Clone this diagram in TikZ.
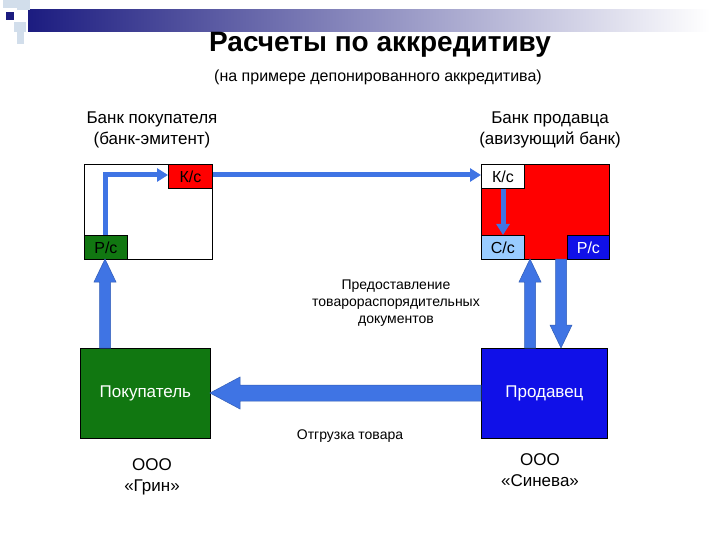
\documentclass[tikz,border=0pt]{standalone}
\usepackage{fontspec}
\setmainfont{Liberation Sans}
\usetikzlibrary{arrows.meta}
\definecolor{ablue}{HTML}{3F74E4}
\definecolor{bred}{HTML}{FF0000}
\definecolor{bgreen}{HTML}{117711}
\definecolor{bblue}{HTML}{1010E8}
\definecolor{lblue}{HTML}{99CCFF}
\definecolor{navy}{HTML}{1C1C80}
\tikzset{
 acc/.style={draw=black,line width=0.8pt,minimum height=24pt,inner sep=0pt,font=\fontsize{16}{18}\selectfont},
 big/.style={draw=black,line width=0.8pt,inner sep=0pt},
 thinarrow/.style={ablue,line width=5pt,-{Triangle[width=13pt,length=11pt]}},
 fatarrow/.style={fill=ablue,draw=ablue!80!black,line width=0.5pt},
 lbl/.style={align=center,font=\fontsize{17}{21}\selectfont},
}
\begin{document}
\begin{tikzpicture}[x=1pt,y=-1pt]
\useasboundingbox (0,0) rectangle (720,540);
\fill[white] (0,0) rectangle (720,540);
% decoration
\shade[left color=navy,right color=white] (28,10) rectangle (710,32);
\fill[lblue!60!gray!40] (3,0) rectangle (17,8);
\fill[lblue!60!gray!40] (17,0) rectangle (30,10);
\fill[navy] (6,12) rectangle (14,20);
\fill[lblue!60!gray!40] (14,22) rectangle (26,32);
\fill[lblue!60!gray!40] (17,32) rectangle (24,44);
% titles
\node[font=\bfseries\fontsize{28}{32}\selectfont] (t) at (380,45) {Расчеты по аккредитиву};
\node[font=\fontsize{16}{19}\selectfont] (st) at (378,77) {(на примере депонированного аккредитива)};
\node[lbl] (lb) at (152,130) {Банк покупателя\\(банк-эмитент)};
\node[lbl] (rb) at (550,130) {Банк продавца\\(авизующий банк)};
% banks
\node[big,fill=white,minimum width=128pt,minimum height=95pt,anchor=north west] (L) at (84,164) {};
\node[big,fill=bred,minimum width=128pt,minimum height=95pt,anchor=north west] (R) at (481,164) {};
\node[acc,fill=bred,minimum width=44pt,anchor=north east] (Lk) at (L.north east) {К/с};
\node[acc,fill=bgreen,minimum width=43pt,anchor=south west] (Lr) at (L.south west) {Р/с};
\node[acc,fill=white,minimum width=43pt,anchor=north west] (Rk) at (R.north west) {К/с};
\node[acc,fill=lblue,minimum width=43pt,anchor=south west] (Rc) at (R.south west) {С/с};
\node[acc,fill=bblue,text=white,minimum width=42pt,anchor=south east] (Rr) at (R.south east) {Р/с};
% parties
\node[big,fill=bgreen,minimum width=130pt,minimum height=90pt,anchor=north west,font=\fontsize{17}{20}\selectfont,text=white] (B) at (80,348) {Покупатель};
\node[big,fill=bblue,minimum width=126pt,minimum height=90pt,anchor=north west,font=\fontsize{17}{20}\selectfont,text=white] (S) at (481,348) {Продавец};
% thin arrows
\coordinate (c1) at (105,175);
\draw[thinarrow] (Lr.north -| c1) -- (c1) -- (Lk.west |- c1);
\draw[thinarrow] (Lk.east |- c1) -- (Rk.west |- c1);
\draw[thinarrow] (Rk.south -| 503,0) -- (Rc.north -| 503,0);
% thick arrows
\draw[fatarrow] (99.5,348) -- (99.5,282) -- (94,282) -- (105,259) -- (116,282) -- (110.5,282) -- (110.5,348) -- cycle;
\draw[fatarrow] (524.5,348) -- (524.5,282) -- (519,282) -- (530,259) -- (541,282) -- (535.5,282) -- (535.5,348) -- cycle;
\draw[fatarrow] (555.5,259) -- (555.5,325) -- (550,325) -- (561,348) -- (572,325) -- (566.5,325) -- (566.5,259) -- cycle;
\draw[fatarrow] (S.west |- 0,385) -- (240,385) -- (240,377) -- (210,393) -- (240,409) -- (240,401) -- (S.west |- 0,401) -- cycle;
% texts
\node[align=center,font=\fontsize{14}{17}\selectfont] (d) at (396,303) {Предоставление\\товарораспорядительных\\документов};
\node[font=\fontsize{14}{17}\selectfont] (o) at (350,436) {Отгрузка товара};
\node[lbl] (g) at (152,477) {ООО\\«Грин»};
\node[lbl] (s) at (540,470) {ООО\\«Синева»};
\end{tikzpicture}
\end{document}
